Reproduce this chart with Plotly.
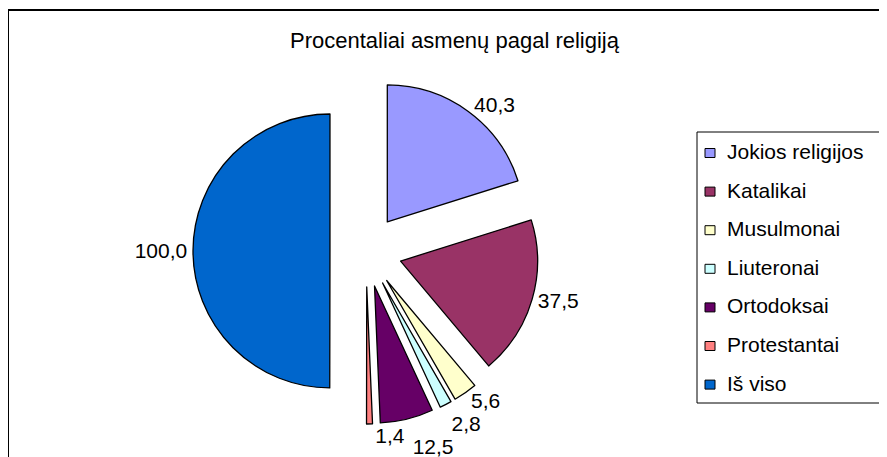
import plotly.graph_objects as go

# ---- data ----
categories = ["Jokios religijos", "Katalikai", "Musulmonai", "Liuteronai",
              "Ortodoksai", "Protestantai", "Iš viso"]
values = [40.3, 37.5, 5.6, 2.8, 12.5, 1.4, 100.0]
value_labels = [f"{v:.1f}".replace(".", ",") for v in values]
colors = ["#9999FF", "#993366", "#FFFFCC", "#CCFFFF", "#660066", "#FF8080", "#0066CC"]
title_text = "Procentaliai asmenų pagal religiją"

W, H = 887, 457
OFF = 8  # page body margin
FONT = "Liberation Sans, Arial, sans-serif"
FS = 21


def px(x):
    return (x - OFF) / W


def py(y):
    return 1 - (y - OFF) / H


SEPARATE = "Protestantai"  # its label is placed on its own, without being stacked
main_text = ["" if c == SEPARATE else t for c, t in zip(categories, value_labels)]
sep_text = [t if c == SEPARATE else "" for c, t in zip(categories, value_labels)]

common = dict(
    labels=categories,
    values=values,
    textinfo="text",
    textposition="outside",
    textfont=dict(family=FONT, size=FS, color="black"),
    sort=False,
    direction="clockwise",
    rotation=0,
    pull=[0.263] * len(values),
    domain=dict(x=[px(193), px(539)], y=[py(424), py(78)]),
    showlegend=False,
    automargin=False,
)

fig = go.Figure()
fig.add_trace(go.Pie(
    text=main_text,
    marker=dict(colors=colors, line=dict(color="black", width=1.3)),
    hoverinfo="label+value",
    **common,
))
fig.add_trace(go.Pie(
    text=sep_text,
    marker=dict(colors=["rgba(0,0,0,0)"] * len(values), line=dict(width=0)),
    hoverinfo="skip",
    **common,
))

shapes = []
annotations = []

# outer chart frame
shapes.append(dict(type="rect", xref="paper", yref="paper",
                   x0=px(8), x1=1.05, y0=-0.05, y1=py(10),
                   line=dict(color="black", width=2), fillcolor="rgba(0,0,0,0)",
                   layer="below"))

# legend box
shapes.append(dict(type="rect", xref="paper", yref="paper",
                   x0=px(697), x1=1.05, y0=py(403), y1=py(132),
                   line=dict(color="black", width=1), fillcolor="white",
                   layer="below"))

y0_item = 153.0
pitch = 38.6
for i, (name, col) in enumerate(zip(categories, colors)):
    yc = y0_item + i * pitch
    shapes.append(dict(type="rect", xref="paper", yref="paper",
                       x0=px(705), x1=px(715), y0=py(yc + 4.5), y1=py(yc - 4.5),
                       line=dict(color="black", width=1), fillcolor=col))
    annotations.append(dict(text=name, xref="paper", yref="paper",
                            x=px(725), y=py(yc - 1.5), xanchor="left", yanchor="middle",
                            showarrow=False,
                            font=dict(family=FONT, size=FS, color="black")))

annotations.append(dict(text=title_text, xref="paper", yref="paper",
                        x=px(455), y=py(40), xanchor="center", yanchor="middle",
                        showarrow=False,
                        font=dict(family=FONT, size=22, color="black")))

fig.update_layout(
    width=W, height=H,
    margin=dict(l=0, r=0, t=0, b=0, autoexpand=False),
    paper_bgcolor="white",
    plot_bgcolor="white",
    shapes=shapes,
    annotations=annotations,
    showlegend=False,
)

post = """
var st = document.createElement('style');
st.innerHTML = '.textline{display:none !important;}';
document.head.appendChild(st);
"""
fig.write_html("out.html", post_script=post)
